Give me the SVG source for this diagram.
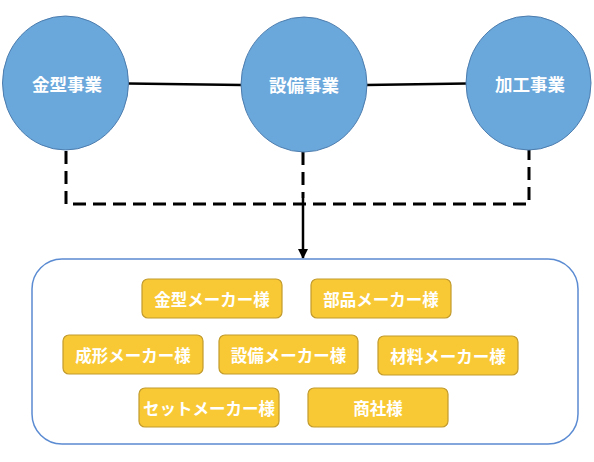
<svg xmlns="http://www.w3.org/2000/svg" width="594" height="462" viewBox="0 0 594 462">
<defs>
<marker id="arr" viewBox="0 0 10 10" refX="9" refY="5" markerWidth="4" markerHeight="4" orient="auto" markerUnits="strokeWidth">
<path d="M0,0 L10,5 L0,10 z" fill="#000"/>
</marker>
</defs>
<style>
.circ{fill:#6AA7DB;stroke:#4D7DAE;stroke-width:1}
.box{fill:#F9C935;stroke:#C29B2C;stroke-width:1.2}
.cont{fill:#FFFFFF;stroke:#5B8BD2;stroke-width:1.5}
.t{font-family:"Noto Sans CJK JP","Noto Sans CJK SC",sans-serif;font-weight:bold;fill:#FFFFFF;text-anchor:middle;dominant-baseline:central}
.ct{font-size:17.5px}
.bt{font-size:16.5px}
.solid{stroke:#000;stroke-width:2.5;fill:none}
.dash{stroke:#000;stroke-width:3;fill:none;stroke-dasharray:13,7}
</style>
<rect width="594" height="462" fill="#FFFFFF"/>
<g id="connectors">
<line class="solid" x1="128" y1="83.5" x2="242" y2="85"/>
<line class="solid" x1="366" y1="85" x2="467" y2="83.5"/>
<polyline class="dash" points="66,151 66,204 529,204 529,150"/>
<line class="dash" x1="303" y1="152" x2="303" y2="198"/>
<line class="solid" x1="303" y1="198" x2="303" y2="258" marker-end="url(#arr)"/>
</g>
<g id="container">
<rect class="cont" x="32" y="259" width="546" height="185" rx="30" ry="30"/>
</g>
<g id="node-kanagata">
<ellipse class="circ" cx="65.5" cy="83" rx="63" ry="67"/>
<text class="t ct" x="67" y="83">金型事業</text>
</g>
<g id="node-setsubi">
<ellipse class="circ" cx="304" cy="84.5" rx="63" ry="67.5"/>
<text class="t ct" x="304" y="84">設備事業</text>
</g>
<g id="node-kakou">
<ellipse class="circ" cx="528.5" cy="83" rx="62.5" ry="67"/>
<text class="t ct" x="530" y="83">加工事業</text>
</g>
<g id="box-kanagata-maker">
<rect class="box" x="142" y="279" width="140" height="39" rx="6"/>
<text class="t bt" x="212" y="298.5">金型メーカー様</text>
</g>
<g id="box-buhin-maker">
<rect class="box" x="311" y="279" width="140" height="39" rx="6"/>
<text class="t bt" x="381" y="298.5">部品メーカー様</text>
</g>
<g id="box-seikei-maker">
<rect class="box" x="63" y="335" width="140" height="39" rx="6"/>
<text class="t bt" x="133" y="354.5">成形メーカー様</text>
</g>
<g id="box-setsubi-maker">
<rect class="box" x="219" y="335" width="139" height="39" rx="6"/>
<text class="t bt" x="288.5" y="354.5">設備メーカー様</text>
</g>
<g id="box-zairyo-maker">
<rect class="box" x="378" y="336" width="140" height="39" rx="6"/>
<text class="t bt" x="448" y="355.5">材料メーカー様</text>
</g>
<g id="box-set-maker">
<rect class="box" x="139" y="388" width="140" height="39" rx="6"/>
<text class="t bt" x="209" y="407.5">セットメーカー様</text>
</g>
<g id="box-shosha">
<rect class="box" x="308" y="388" width="140" height="39" rx="6"/>
<text class="t bt" x="378" y="407.5">商社様</text>
</g>
</svg>
